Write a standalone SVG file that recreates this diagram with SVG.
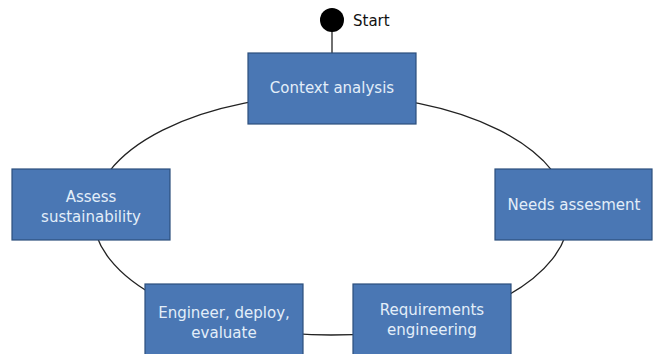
<svg xmlns="http://www.w3.org/2000/svg" width="654" height="354" viewBox="0 0 654 354">
<style>
.box{fill:#4a77b4;stroke:#2c4f7c;stroke-width:1.2}
.lbl{font-family:"DejaVu Sans","Liberation Sans",sans-serif;font-size:15px;fill:#e3eef9;text-anchor:middle}
.conn{fill:none;stroke:#222;stroke-width:1.3}
</style>
<rect width="654" height="354" fill="#fff"/>
<g id="connectors">
<ellipse class="conn" cx="331" cy="215" rx="238" ry="120"/>
<line class="conn" x1="332" y1="30" x2="332" y2="53" stroke-width="2"/>
</g>
<g id="start">
<circle cx="332" cy="20" r="12" fill="#000"/>
<text x="353" y="26" font-family="'DejaVu Sans','Liberation Sans',sans-serif" font-size="15" fill="#111">Start</text>
</g>
<g id="context-analysis">
<rect class="box" x="248" y="53" width="168" height="71"/>
<text class="lbl" x="332" y="93">Context analysis</text>
</g>
<g id="needs-assesment">
<rect class="box" x="495" y="169" width="157" height="71"/>
<text class="lbl" x="574" y="210">Needs assesment</text>
</g>
<g id="requirements-engineering">
<rect class="box" x="353" y="284" width="158" height="75"/>
<text class="lbl" x="432" y="315">Requirements</text>
<text class="lbl" x="432" y="335">engineering</text>
</g>
<g id="engineer-deploy-evaluate">
<rect class="box" x="145" y="284" width="158" height="75"/>
<text class="lbl" x="224" y="318">Engineer, deploy,</text>
<text class="lbl" x="224" y="338">evaluate</text>
</g>
<g id="assess-sustainability">
<rect class="box" x="12" y="169" width="158" height="71"/>
<text class="lbl" x="91" y="202">Assess</text>
<text class="lbl" x="91" y="222">sustainability</text>
</g>
</svg>
